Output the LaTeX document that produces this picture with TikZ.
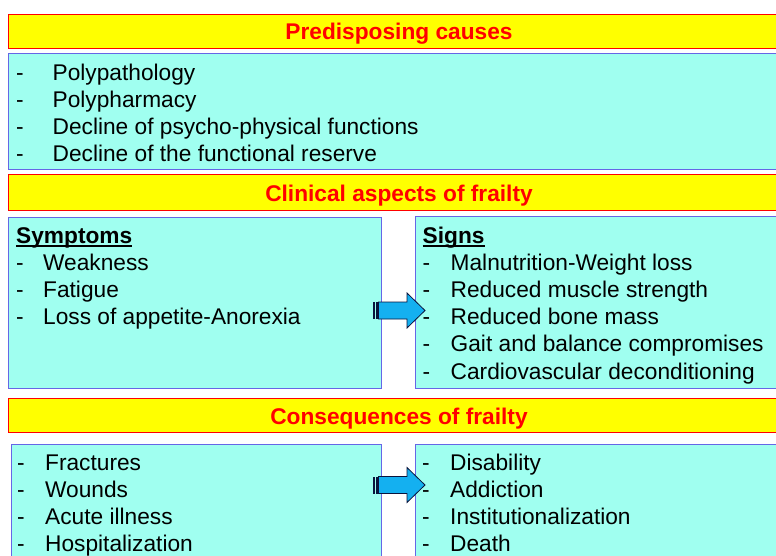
\documentclass[tikz,border=0pt]{standalone}
\usepackage{fontspec}
\setmainfont{Liberation Sans}
\usetikzlibrary{positioning}

\definecolor{titleyellow}{RGB}{255,255,0}
\definecolor{titlered}{RGB}{255,0,0}
\definecolor{boxcyan}{RGB}{160,255,240}
\definecolor{boxblue}{RGB}{102,102,230}
\definecolor{arrowblue}{RGB}{20,176,240}
\definecolor{arrowdark}{RGB}{10,20,60}

\newsavebox{\headbox}
\newcommand{\headul}[1]{\sbox{\headbox}{#1}\rlap{\rule[-3.7pt]{\wd\headbox}{1.7pt}}\usebox{\headbox}}

\begin{document}
\begin{tikzpicture}[
x=1pt,
y=-1pt,
every node/.style={
font=\fontsize{22.7}{27.2}\selectfont
},
titlebar/.style={
rectangle,
anchor=north west,
inner sep=0pt,
minimum width=781pt,
text height=18.5pt,
text depth=1.5pt,
line width=1pt,
draw=titlered,
fill=titleyellow,
text=titlered,
font=\fontsize{22.7}{27.2}\selectfont\bfseries
},
listbox/.style={
rectangle,
anchor=north west,
inner sep=0pt,
line width=1pt,
draw=boxblue,
fill=boxcyan
},
listtext/.style={
anchor=base west,
inner sep=0pt
},
stripedarrow/.pic={
\fill[arrowdark] (0,-8.5) rectangle (2.3,8.5);
\fill[arrowdark] (3.2,-8.5) rectangle (5.5,8.5);
\draw[arrowdark,line width=0.8pt,fill=arrowblue] (5.5,-8.5) -- (34,-8.5) -- (34,-17.5) -- (52,0) -- (34,17.5) -- (34,8.5) -- (5.5,8.5) -- cycle;
}]

\useasboundingbox (0,0) rectangle (776,556);
\clip (0,0) rectangle (776,556);
\fill[white] (0,0) rectangle (776,556);

\node [titlebar, minimum height=34pt] (causetitle) at (8,14) {Predisposing causes};
\node [listbox, minimum width=781pt, minimum height=116pt] (causebox) at (8,53) {};

\node [titlebar, minimum height=36pt] (clintitle) at (8,174) {Clinical aspects of frailty};
\node [listbox, minimum width=373pt, minimum height=171pt] (sympbox) at (8,217) {};
\node [listbox, minimum width=374pt, minimum height=172pt] (signbox) at (415,216) {};

\node [titlebar, minimum height=34pt] (consetitle) at (8,398) {Consequences of frailty};
\node [listbox, minimum width=370pt, minimum height=130pt] (leftbox) at (11,444) {};
\node [listbox, minimum width=374pt, minimum height=130pt] (rightbox) at (415,444) {};

\node [listtext] (causes) at ([shift={(8,27.2)}]causebox.north west) {\begin{tabular}[t]{@{}p{36.5pt}@{}l@{}}
- & Polypathology\\
- & Polypharmacy\\
- & Decline of psycho-physical functions\\
- & Decline of the functional reserve
\end{tabular}};

\node [listtext] (symptoms) at ([shift={(8,26)}]sympbox.north west) {\begin{tabular}[t]{@{}p{27pt}@{}l@{}}
\multicolumn{2}{@{}l@{}}{\bfseries\headul{Symptoms}}\\
- & Weakness\\
- & Fatigue\\
- & Loss of appetite-Anorexia
\end{tabular}};

\node [listtext] (signs) at ([shift={(7.5,27)}]signbox.north west) {\begin{tabular}[t]{@{}p{28pt}@{}l@{}}
\multicolumn{2}{@{}l@{}}{\bfseries\headul{Signs}}\\
- & Malnutrition-Weight loss\\
- & Reduced muscle strength\\
- & Reduced bone mass\\
- & Gait and balance compromises\\
- & Cardiovascular deconditioning
\end{tabular}};

\node [listtext] (conseleft) at ([shift={(6,26)}]leftbox.north west) {\begin{tabular}[t]{@{}p{28pt}@{}l@{}}
- & Fractures\\
- & Wounds\\
- & Acute illness\\
- & Hospitalization
\end{tabular}};

\node [listtext] (conseright) at ([shift={(7,26)}]rightbox.north west) {\begin{tabular}[t]{@{}p{28pt}@{}l@{}}
- & Disability\\
- & Addiction\\
- & Institutionalization\\
- & Death
\end{tabular}};

\pic (clinarrow) at (373,310.5) {stripedarrow};
\pic (consearrow) at (373,485) {stripedarrow};

\end{tikzpicture}
\end{document}
